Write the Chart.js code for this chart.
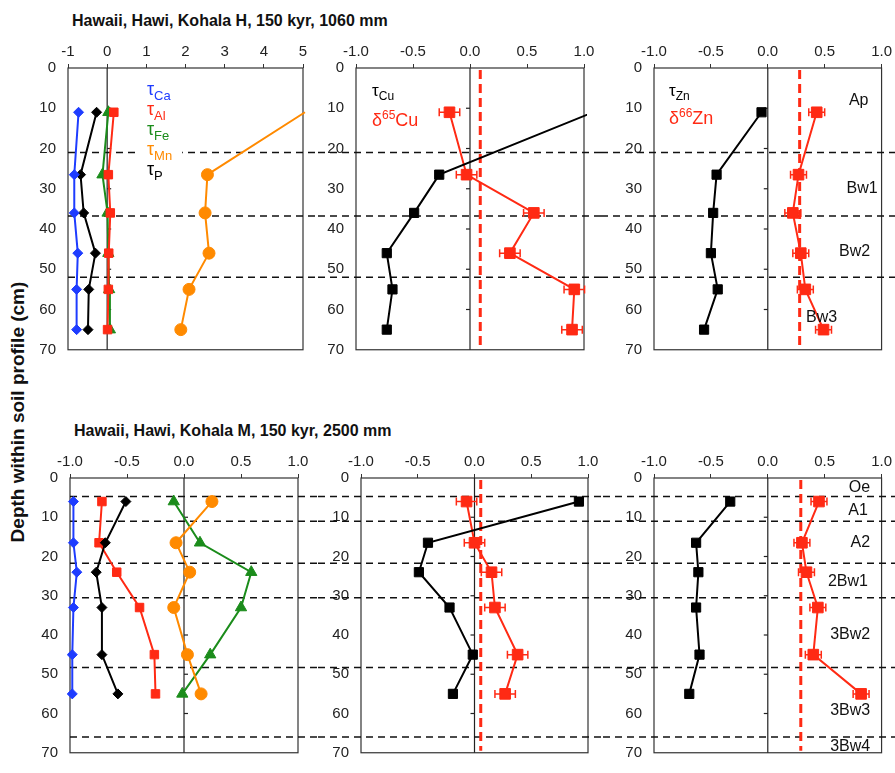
<!DOCTYPE html>
<html><head><meta charset="utf-8">
<script src="https://cdn.jsdelivr.net/npm/chart.js@4.4.1/dist/chart.umd.min.js"></script>
<style>
body{margin:0;background:#fff;width:895px;height:773px;position:relative;overflow:hidden;font-family:'Liberation Sans',Arial,Helvetica,sans-serif;}
canvas{position:absolute;}
.title{position:absolute;font-weight:bold;font-size:16px;line-height:16px;white-space:nowrap;color:#111;}
.ylab{position:absolute;font-weight:bold;font-size:19px;line-height:20px;white-space:nowrap;color:#111;width:320px;text-align:center;transform:rotate(-90deg);transform-origin:50% 50%;}
</style></head><body>
<div class="title" style="left:72px;top:13px">Hawaii, Hawi, Kohala H, 150 kyr, 1060 mm</div>
<div class="title" style="left:74px;top:423px">Hawaii, Hawi, Kohala M, 150 kyr, 2500 mm</div>
<div class="ylab" style="left:-142px;top:402px">Depth within soil profile (cm)</div>
<canvas id="cA"></canvas><canvas id="cB"></canvas><canvas id="cC"></canvas>
<canvas id="cD"></canvas><canvas id="cE"></canvas><canvas id="cF"></canvas>
<script>
// ---------- DATA ----------
// Kohala H (1060 mm) sample depths (cm)
const depthH = [11, 26.5, 36, 46, 55, 65];
const tauCaH = [-0.73, -0.84, -0.84, -0.75, -0.78, -0.78];
const tauAlH = [0.17, 0.03, 0.08, 0.04, 0.03, 0.01];
const tauFeH = [0.03, -0.12, 0.01, 0.03, 0.05, 0.07];
const tauMnH = [5.05, 2.56, 2.5, 2.6, 2.09, 1.88];
const tauPH  = [-0.27, -0.68, -0.6, -0.3, -0.47, -0.49];
const tauCuH = [1.08, -0.27, -0.49, -0.73, -0.68, -0.73];
const d65CuH = [-0.18, -0.03, 0.56, 0.35, 0.915, 0.895];
const errCuH = [0.09, 0.09, 0.09, 0.09, 0.09, 0.09];
const tauZnH = [-0.055, -0.45, -0.48, -0.5, -0.44, -0.56];
const d66ZnH = [0.43, 0.27, 0.22, 0.29, 0.33, 0.49];
const errZnH = [0.07, 0.07, 0.07, 0.07, 0.07, 0.07];
const refCuH = 0.09;
const refZnH = 0.28;
const horizonsH = [21, 36.8, 52];
const horizonNamesH = ["Ap", "Bw1", "Bw2", "Bw3"];
const horizonLabelDepthsH = [8, 30, 45.5, 62];

// Kohala M (2500 mm)
const depthM = [6, 16.5, 24, 33, 45, 55];
const tauCaM = [-0.97, -0.97, -0.94, -0.97, -0.98, -0.98];
const tauAlM = [-0.72, -0.745, -0.59, -0.39, -0.26, -0.25];
const tauFeM = [-0.09, 0.14, 0.59, 0.5, 0.23, -0.015];
const tauMnM = [0.245, -0.07, 0.05, -0.09, 0.03, 0.15];
const tauPM  = [-0.51, -0.69, -0.77, -0.72, -0.72, -0.58];
const tauCuM = [0.92, -0.41, -0.49, -0.22, -0.015, -0.19];
const d65CuM = [-0.07, 0.0, 0.15, 0.18, 0.38, 0.27];
const errCuM = [0.09, 0.09, 0.09, 0.09, 0.09, 0.09];
const tauZnM = [-0.33, -0.63, -0.61, -0.63, -0.6, -0.69];
const d66ZnM = [0.45, 0.3, 0.34, 0.44, 0.4, 0.82];
const errZnM = [0.07, 0.07, 0.07, 0.07, 0.07, 0.07];
const refCuM = 0.055;
const refZnM = 0.29;
const horizonsM = [4.7, 11, 21.7, 30.5, 48.3, 66];
const horizonNamesM = ["Oe", "A1", "A2", "2Bw1", "3Bw2", "3Bw3", "3Bw4"];
const horizonLabelDepthsM = [2.5, 8.2, 16.4, 26.4, 39.8, 59.3, 68.4];

// tick labels
const yTicks = [0, 10, 20, 30, 40, 50, 60, 70];
const xTicksWide = [-1, 0, 1, 2, 3, 4, 5];
const xTicksUnit = [-1, -0.5, 0, 0.5, 1];

// ---------- STYLE ----------
const FONT = "'Liberation Sans', Arial, Helvetica, sans-serif";
const C = {blue:'#1e3cff', red:'#ff2a14', green:'#1b8c1b', orange:'#ff8a00', black:'#000000'};
Chart.defaults.font.family = FONT;
Chart.defaults.font.size = 15;
Chart.defaults.color = '#222';

function pts(xs, ds) { return xs.map((v, i) => ({x: v, y: ds[i]})); }
function series(label, xs, depths, color, style, r, xMax) {
  return {
    label, data: pts(xs, depths), showLine: true,
    borderColor: color, backgroundColor: color, borderWidth: 2,
    pointStyle: style, pointBorderWidth: 1,
    pointRadius: c => (c.raw && c.raw.x > xMax) ? 0 : r,
    clip: 3
  };
}

function drawParts(ctx, x, y, parts, color, bg) {
  let w = 0;
  parts.forEach(p => { ctx.font = p.size + 'px ' + FONT; p.w = ctx.measureText(p.t).width; w += p.w; });
  if (bg) { ctx.fillStyle = '#fff'; ctx.fillRect(x - 7, y - 15, w + 17, 24); }
  ctx.fillStyle = color; ctx.textAlign = 'left'; ctx.textBaseline = 'alphabetic';
  let cx = x;
  parts.forEach(p => { ctx.font = p.size + 'px ' + FONT; ctx.fillText(p.t, cx, y + (p.dy || 0)); cx += p.w; });
}

const decor = {
  id: 'decor',
  beforeDatasetsDraw(chart, _a, o) {
    const {ctx, chartArea: a} = chart;
    const xs = chart.scales.x, ys = chart.scales.y;
    ctx.save();
    // frame
    ctx.strokeStyle = '#333'; ctx.lineWidth = 1.2; ctx.setLineDash([]);
    ctx.strokeRect(a.left, a.top, a.right - a.left, a.bottom - a.top);
    // zero line with small depth ticks
    const x0 = xs.getPixelForValue(0);
    ctx.strokeStyle = '#222';
    ctx.beginPath(); ctx.moveTo(x0, a.top); ctx.lineTo(x0, a.bottom); ctx.stroke();
    const dir = o.zeroSide === 'right' ? 1 : -1;
    ys.ticks.forEach(t => {
      if (t.value > ys.min && t.value < ys.max) {
        const py = ys.getPixelForValue(t.value);
        ctx.beginPath(); ctx.moveTo(x0, py); ctx.lineTo(x0 + dir * 4, py); ctx.stroke();
      }
    });
    // horizon boundaries
    ctx.setLineDash([7, 5]); ctx.lineWidth = 1.5; ctx.strokeStyle = '#111';
    const xStart = o.fromArea ? a.left : 0, xEnd = chart.width;
    o.horizons.forEach(d => {
      const py = ys.getPixelForValue(d);
      ctx.beginPath(); ctx.moveTo(xStart, py); ctx.lineTo(xEnd, py); ctx.stroke();
    });
    // reference line
    if (o.ref != null) {
      ctx.setLineDash([9, 5]); ctx.lineWidth = 3; ctx.strokeStyle = C.red;
      const px = xs.getPixelForValue(o.ref);
      ctx.beginPath(); ctx.moveTo(px, a.top + 2); ctx.lineTo(px, a.bottom - 2); ctx.stroke();
    }
    // error bars
    ctx.setLineDash([]); ctx.lineWidth = 1.5; ctx.strokeStyle = C.red;
    (o.errors || []).forEach(e => {
      e.vals.forEach((v, i) => {
        const py = ys.getPixelForValue(e.depths[i]);
        const p1 = xs.getPixelForValue(v - e.err[i]), p2 = xs.getPixelForValue(v + e.err[i]);
        ctx.beginPath();
        ctx.moveTo(p1, py); ctx.lineTo(p2, py);
        ctx.moveTo(p1, py - 4); ctx.lineTo(p1, py + 4);
        ctx.moveTo(p2, py - 4); ctx.lineTo(p2, py + 4);
        ctx.stroke();
      });
    });
    ctx.restore();
  },
  afterDatasetsDraw(chart, _a, o) {
    const {ctx, chartArea: a} = chart;
    const xs = chart.scales.x, ys = chart.scales.y;
    ctx.save();
    (o.legend || []).forEach(l => drawParts(ctx, a.left + l.dx, a.top + l.dy, l.parts, l.color, l.bg));
    if (o.names) {
      ctx.fillStyle = '#111'; ctx.font = '16px ' + FONT; ctx.textAlign = 'right'; ctx.textBaseline = 'middle';
      o.names.forEach((n, i) => ctx.fillText(n, xs.getPixelForValue(o.nameX[i]), ys.getPixelForValue(o.nameDepths[i])));
    }
    ctx.restore();
  }
};

function makePanel(id, box, area, xMin, xMax, xTicks, fmt, datasets, deco) {
  const cv = document.getElementById(id);
  const [cl, ct, cw, ch] = box;
  const [L, T, R, B] = area;
  cv.width = cw; cv.height = ch;
  cv.style.left = cl + 'px'; cv.style.top = ct + 'px';
  new Chart(cv, {
    type: 'scatter',
    data: {datasets},
    options: {
      responsive: false, animation: false, devicePixelRatio: 1, events: [],
      layout: {padding: {left: 0, top: 0, right: cw - (R - cl), bottom: ch - (B - ct)}},
      plugins: {legend: {display: false}, tooltip: {enabled: false}, decor: deco},
      scales: {
        x: {
          type: 'linear', position: 'top', min: xMin, max: xMax,
          afterBuildTicks: s => { s.ticks = xTicks.map(v => ({value: v})); },
          afterFit: s => { s.height = T - ct; },
          ticks: {callback: fmt, padding: 3, autoSkip: false, maxRotation: 0, color: '#222', font: {size: 15}},
          grid: {display: true, drawOnChartArea: false, drawTicks: true, tickLength: 4, color: '#333'},
          border: {display: false}
        },
        y: {
          type: 'linear', position: 'left', reverse: true, min: 0, max: 70,
          afterBuildTicks: s => { s.ticks = yTicks.map(v => ({value: v})); },
          afterFit: s => { s.width = L - cl; },
          ticks: {callback: v => String(v), padding: 12, color: '#222', font: {size: 15, lineHeight: 1.1}},
          grid: {display: false, drawTicks: false},
          border: {display: false}
        }
      }
    },
    plugins: [decor]
  });
}

const fmtInt = v => String(v);
const fmt1 = v => v.toFixed(1);
const tau = (sub, size, subSize, off) => [{t: 'τ', size}, {t: sub, size: subSize, dy: off}];
const delta = (iso, el) => [{t: 'δ', size: 18}, {t: iso, size: 12, dy: -7}, {t: el, size: 18}];

// ---------- PANELS ----------
makePanel('cA', [0, 30, 318, 340], [68, 68, 303, 353], -1, 5, xTicksWide, fmtInt, [
  series('τCa', tauCaH, depthH, C.blue, 'rectRot', 5, 5),
  series('τP', tauPH, depthH, C.black, 'rectRot', 5, 5),
  series('τMn', tauMnH, depthH, C.orange, 'circle', 6, 5),
  series('τAl', tauAlH, depthH, C.red, 'rect', 6, 5),
  series('τFe', tauFeH, depthH, C.green, 'triangle', 6.5, 5)
], {horizons: horizonsH, fromArea: true, zeroSide: 'right', legend: [
  {dx: 79, dy: 27, parts: tau('Ca', 18, 13, 5), color: C.blue, bg: true},
  {dx: 79, dy: 47, parts: tau('Al', 18, 13, 5), color: C.red, bg: true},
  {dx: 79, dy: 67, parts: tau('Fe', 18, 13, 5), color: C.green, bg: true},
  {dx: 79, dy: 87, parts: tau('Mn', 18, 13, 5), color: C.orange, bg: true},
  {dx: 79, dy: 107, parts: tau('P', 18, 13, 5), color: C.black, bg: true}
]});

makePanel('cB', [318, 30, 283, 340], [356, 68, 584, 353], -1, 1, xTicksUnit, fmt1, [
  series('τCu', tauCuH, depthH, C.black, 'rect', 6.5, 1),
  series('δ65Cu', d65CuH, depthH, C.red, 'rect', 7.5, 1)
], {horizons: horizonsH, zeroSide: 'left', ref: refCuH,
  errors: [{vals: d65CuH, err: errCuH, depths: depthH}],
  legend: [
    {dx: 16, dy: 28, parts: tau('Cu', 17, 12, 4), color: C.black},
    {dx: 16, dy: 58, parts: delta('65', 'Cu'), color: C.red}
  ]});

makePanel('cC', [601, 30, 294, 340], [654, 68, 882, 353], -1, 1, xTicksUnit, fmt1, [
  series('τZn', tauZnH, depthH, C.black, 'rect', 6.5, 1),
  series('δ66Zn', d66ZnH, depthH, C.red, 'rect', 7.5, 1)
], {horizons: horizonsH, zeroSide: 'left', ref: refZnH,
  errors: [{vals: d66ZnH, err: errZnH, depths: depthH}],
  names: horizonNamesH, nameDepths: horizonLabelDepthsH, nameX: [0.885, 0.965, 0.9, 0.61],
  legend: [
    {dx: 15, dy: 28, parts: tau('Zn', 17, 12, 4), color: C.black},
    {dx: 15, dy: 56, parts: delta('66', 'Zn'), color: C.red}
  ]});

makePanel('cD', [0, 440, 318, 333], [70, 478, 298, 764], -1, 1, xTicksUnit, fmt1, [
  series('τCa', tauCaM, depthM, C.blue, 'rectRot', 5, 1),
  series('τP', tauPM, depthM, C.black, 'rectRot', 5, 1),
  series('τAl', tauAlM, depthM, C.red, 'rect', 6, 1),
  series('τMn', tauMnM, depthM, C.orange, 'circle', 6, 1),
  series('τFe', tauFeM, depthM, C.green, 'triangle', 6.5, 1)
], {horizons: horizonsM, fromArea: true, zeroSide: 'right'});

makePanel('cE', [318, 440, 285, 333], [361, 478, 588, 764], -1, 1, xTicksUnit, fmt1, [
  series('τCu', tauCuM, depthM, C.black, 'rect', 6.5, 1),
  series('δ65Cu', d65CuM, depthM, C.red, 'rect', 7.5, 1)
], {horizons: horizonsM, zeroSide: 'left', ref: refCuM,
  errors: [{vals: d65CuM, err: errCuM, depths: depthM}]});

makePanel('cF', [603, 440, 292, 333], [654, 478, 882, 764], -1, 1, xTicksUnit, fmt1, [
  series('τZn', tauZnM, depthM, C.black, 'rect', 6.5, 1),
  series('δ66Zn', d66ZnM, depthM, C.red, 'rect', 7.5, 1)
], {horizons: horizonsM, zeroSide: 'left', ref: refZnM,
  errors: [{vals: d66ZnM, err: errZnM, depths: depthM}],
  names: horizonNamesM, nameDepths: horizonLabelDepthsM, nameX: [0.9, 0.88, 0.9, 0.88, 0.9, 0.9, 0.9]});
</script>
</body></html>
